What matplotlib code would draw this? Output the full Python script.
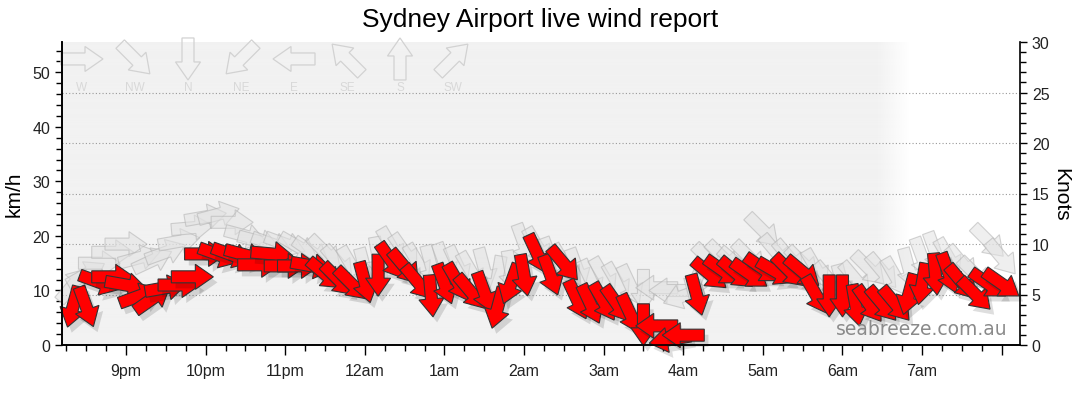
import numpy as np
import matplotlib
matplotlib.use('Agg')
import matplotlib.pyplot as plt
import matplotlib.transforms as mtransforms
import matplotlib.patheffects as pe
from matplotlib.patches import Polygon
from matplotlib.ticker import MultipleLocator, FixedLocator

plt.rcParams['font.family'] = ['Liberation Sans', 'DejaVu Sans']

#++++++++++++++++++++++++++++++++++++++++++++++
# Observations (10 minute readings), km/h and direction wind is coming FROM
#++++++++++++++++++++++++++++++++++++++++++++++
times = ['20:20', '20:30', '20:40', '20:50',
         '21:00', '21:10', '21:20', '21:30', '21:40', '21:50',
         '22:00', '22:10', '22:20', '22:30', '22:40', '22:50',
         '23:00', '23:10', '23:20', '23:30', '23:40', '23:50',
         '00:00', '00:10', '00:20', '00:30', '00:40', '00:50',
         '01:00', '01:10', '01:20', '01:30', '01:40', '01:50',
         '02:00', '02:10', '02:20', '02:30', '02:40', '02:50',
         '03:00', '03:10', '03:20', '03:30', '03:40', '03:50',
         '04:00', '04:10', '04:20', '04:30', '04:40', '04:50',
         '05:00', '05:10', '05:20', '05:30', '05:40', '05:50',
         '06:00', '06:10', '06:20', '06:30', '06:40', '06:50',
         '07:00', '07:10', '07:20', '07:30', '07:40', '07:50',
         '08:00']

wind_kmh = [7, 7, 11.5, 12.5,
            11, 9, 8.5, 10.5, 11, 12.5,
            16.7, 16.5, 16.5, 16.5, 14.7, 16.7,
            14.5, 14.5, 14.5, 13, 12, 11.2,
            11.5, 12.8, 15.4, 14.3, 11.5, 9,
            11.2, 11.5, 9.7, 9.7, 6.8, 11.2,
            12.8, 16.7, 12.8, 14.9, 8.3, 7.5,
            7.9, 7.5, 5.7, 3.7, 3.5, 1.0,
            1.8, 9.2, 13, 13.6, 13.2, 13,
            14, 13.4, 13.6, 13.4, 9.2, 9,
            9, 7.3, 7.5, 7.5, 7.5, 9.3,
            11.2, 13, 13.2, 11.5, 9.3, 11.2,
            11.2]

wind_dir = [15, 340, 290, 270,
            280, 250, 235, 260, 270, 270,
            270, 290, 290, 285, 270, 275,
            270, 270, 280, 310, 315, 315,
            345, 0, 325, 320, 320, 355,
            340, 330, 320, 340, 15, 20,
            350, 335, 340, 320, 335, 335,
            330, 325, 335, 0, 90, 80,
            90, 345, 310, 305, 310, 305,
            305, 300, 315, 310, 330, 0,
            0, 350, 325, 320, 320, 15,
            10, 355, 340, 320, 315, 305,
            305]

gust_kmh = [11, 13, 15, 17,
            18.5, 16, 15.5, 17, 19, 21.5,
            23.5, 24, 22.5, 20, 19, 18.5,
            18.5, 18, 17, 17, 15, 14.5,
            14, 16, 18, 17, 15, 14.5,
            15, 14.5, 13.5, 14, 12.5, 13.5,
            18.5, 18, 16, 15, 14, 12,
            12.5, 11.5, 11, 10, 10.5, 10,
            9, 12, 15.5, 16, 15, 16,
            21, 17, 16, 15, 14, 12,
            11, 12, 14, 13.5, 12.5, 14,
            16, 17, 16, 15, 13, 19,
            16]

gust_dir = [220, 240, 270, 270,
            270, 255, 245, 250, 260, 265,
            260, 255, 270, 285, 285, 290,
            290, 300, 305, 315, 320, 330,
            345, 350, 330, 325, 330, 345,
            340, 335, 330, 345, 10, 350,
            340, 330, 340, 330, 340, 335,
            330, 330, 335, 0, 90, 90,
            70, 20, 315, 315, 310, 315,
            315, 320, 320, 315, 330, 320,
            345, 320, 315, 320, 330, 345,
            340, 340, 330, 320, 315, 315,
            320]

compass_labels = ['W', 'NW', 'N', 'NE', 'E', 'SE', 'S', 'SW']
compass_dirs = [270, 315, 0, 45, 90, 135, 180, 225]

hour_ticks = [21, 22, 23, 24, 25, 26, 27, 28, 29, 30, 31, 32]
hour_labels = ['9pm', '10pm', '11pm', '12am', '1am', '2am', '3am',
               '4am', '5am', '6am', '7am', '']

KMH_PER_KNOT = 1.852
DPI = 100

def to_hours(s):
    h, m = s.split(':')
    h = int(h)
    if h < 12:
        h += 24
    return h + int(m) / 60.0

t = [to_hours(s) for s in times]

# block arrow in pixels, pointing along +x, centred on the origin
ARROW = [(-21, -6), (3, -6), (3, -12.5), (21, 0), (3, 12.5), (3, 6), (-21, 6)]

def arrow_angle(direction_from):
    th = np.radians(direction_from)
    return np.degrees(np.arctan2(-np.cos(th), -np.sin(th)))

def draw_arrow(ax, x, y, direction_from, base, **kw):
    trans = (mtransforms.Affine2D().rotate_deg(arrow_angle(direction_from)).scale(1.0 / DPI)
             + ax.figure.dpi_scale_trans
             + mtransforms.ScaledTranslation(x, y, base))
    p = Polygon(ARROW, closed=True, transform=trans, clip_on=False, **kw)
    ax.add_patch(p)
    return p

fig = plt.figure(figsize=(10.8, 4.14), dpi=DPI)
ax = fig.add_axes([62 / 1080, 68 / 414, 958 / 1080, 303 / 414])
ax2 = ax.twinx()

# light grey panel fading out towards the right
xs = np.linspace(0, 1, 958)
fade = np.clip((0.885 - xs) / 0.035, 0, 1)
rgba = np.zeros((1, 958, 4))
rgba[..., :3] = 0xf2 / 255.0
rgba[..., 3] = fade
ax.imshow(rgba, extent=[0, 1, 0, 1], transform=ax.transAxes, aspect='auto', zorder=0)

ax.set_xlim(20.196, 32.23)
ax.set_ylim(0, 30 * KMH_PER_KNOT)
ax2.set_ylim(0, 30)

for k in range(5, 30, 5):
    ax.axhline(k * KMH_PER_KNOT, color='#999999', lw=0.8, ls=(0, (1, 2)), zorder=1)

# gusts (pale) behind average wind (red)
shadow = [pe.SimplePatchShadow(offset=(3, -4), shadow_rgbFace='k', alpha=0.13), pe.Normal()]
for x, v, d in zip(t, gust_kmh, gust_dir):
    draw_arrow(ax, x, v, d, ax.transData, facecolor='#e2e2e2', edgecolor='#b0b0b0',
               lw=0.8, alpha=0.55, zorder=2)
for x, v, d in zip(t, wind_kmh, wind_dir):
    p = draw_arrow(ax, x, v, d, ax.transData, facecolor='#ff0000', edgecolor='#333333',
                   lw=0.8, zorder=3)
    p.set_path_effects(shadow)

# compass key along the top
for i, (lab, d) in enumerate(zip(compass_labels, compass_dirs)):
    xa = (82 + 53 * i - 62) / 958
    draw_arrow(ax, xa, 0.944, d, ax.transAxes, facecolor='none', edgecolor='#d2d2d2',
               lw=0.9, zorder=2)
    ax.text(xa, 0.852, lab, transform=ax.transAxes, ha='center', va='center',
            color='#d8d8d8', fontsize=8.5, zorder=2)

ax.text(0.987, 0.053, 'seabreeze.com.au', transform=ax.transAxes, ha='right', va='center',
        color='#8a8a8a', fontsize=13.5, family='DejaVu Sans', zorder=4)

# axes and ticks
ax.xaxis.set_major_locator(FixedLocator(hour_ticks))
ax.set_xticklabels(hour_labels)
ax.xaxis.set_minor_locator(MultipleLocator(0.25))
ax.yaxis.set_major_locator(MultipleLocator(10))
ax.yaxis.set_minor_locator(MultipleLocator(2))
ax2.yaxis.set_major_locator(MultipleLocator(5))
ax2.yaxis.set_minor_locator(MultipleLocator(1))

ax.tick_params(axis='x', which='major', length=7, width=1, labelsize=11.5, pad=6,
               labelcolor='#222222')
ax.tick_params(axis='x', which='minor', length=4, width=1)
ax.tick_params(axis='y', which='major', length=5, width=1, labelsize=11.5, labelcolor='#222222')
ax.tick_params(axis='y', which='minor', length=4, width=1)
ax2.tick_params(axis='y', which='major', length=5, width=1, labelsize=11.5, labelcolor='#222222')
ax2.tick_params(axis='y', which='minor', length=4, width=1)

for a in (ax, ax2):
    a.spines['top'].set_visible(False)
    for s in ('left', 'right', 'bottom'):
        a.spines[s].set_linewidth(1.2)
ax.spines['right'].set_visible(False)

ax.set_ylabel('km/h', fontsize=15, labelpad=6)
ax2.set_ylabel('Knots', fontsize=15, rotation=270, labelpad=15)
fig.suptitle('Sydney Airport live wind report', fontsize=19, y=0.98)

fig.savefig('out.png', dpi=DPI)
